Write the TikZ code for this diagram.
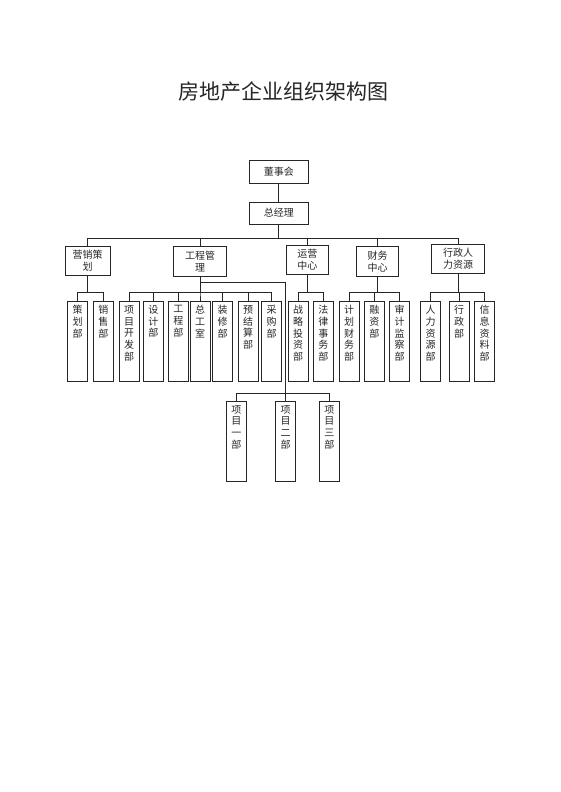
\documentclass[tikz,border=0pt]{standalone}
\usepackage{fontspec}
\setmainfont{Noto Sans CJK SC}
\usetikzlibrary{positioning}

\tikzset{
  unit/.style={draw,inner sep=0pt,align=center,font=\fontsize{10}{12}\selectfont},
  dept/.style={draw,anchor=north,inner xsep=2pt,inner ysep=4pt,minimum width=20pt,minimum height=80pt,font=\fontsize{10}{11.7}\selectfont}
}
\newcommand{\vt}[1]{\parbox[t][72pt][t]{14pt}{\centering\baselineskip=11.7pt #1}}

\begin{document}
\begin{tikzpicture}[x=1pt,y=1pt,line width=0.7pt,color=black!85]
  \useasboundingbox (0,0) rectangle (560,-792);
  \node (title) at (283,-91) {\fontsize{21}{21}\selectfont 房地产企业组织架构图};

  % top levels
  \node[unit,minimum width=59pt,minimum height=22.6pt] (dsh) at (278.8,-172) {董事会};
  \node[unit,minimum width=59pt,minimum height=22pt] (zjl) at (278.8,-213) {总经理};
  \node[unit,minimum width=44.7pt,minimum height=28.3pt] (yx) at (87.5,-260.8) {营销策\\划};
  \node[unit,minimum width=53pt,minimum height=29.3pt] (gc) at (200,-261.3) {工程管\\理};
  \node[unit,minimum width=42.7pt,minimum height=29.3pt] (yy) at (307.3,-259.7) {运营\\中心};
  \node[unit,minimum width=42.3pt,minimum height=29.3pt] (cw) at (377.5,-261.3) {财务\\中心};
  \node[unit,minimum width=52.7pt,minimum height=29.3pt] (xz) at (458,-258.7) {行政人\\力资源};

  % departments
  \foreach \x/\n/\txt in {77.7/chb/策\\划\\部, 103.3/xs/销\\售\\部, 129.2/xmkf/项\\目\\开\\发\\部,
      153.3/sj/设\\计\\部, 178.3/gcb/工\\程\\部, 200/zgs/总\\工\\室, 222.5/zx/装\\修\\部,
      248/yjs/预\\结\\算\\部, 271.7/cg/采\\购\\部, 298/zltz/战\\略\\投\\资\\部,
      323.3/flsw/法\\律\\事\\务\\部, 349.2/jhcw/计\\划\\财\\务\\部, 374.3/rz/融\\资\\部,
      399.7/sjjc/审\\计\\监\\察\\部, 430.7/rlzy/人\\力\\资\\源\\部, 459/xzb/行\\政\\部,
      484.7/xxzl/信\\息\\资\\料\\部}
    \node[dept] (\n) at (\x,-301) {\vt{\txt}};

  % project teams
  \foreach \x/\n/\txt in {236.3/xm1/项\\目\\一\\部, 285.5/xm2/项\\目\\二\\部, 329.3/xm3/项\\目\\三\\部}
    \node[dept] (\n) at (\x,-400.7) {\vt{\txt}};

  \coordinate (b1) at (0,-238.3);
  \coordinate (b2) at (0,-292);
  \coordinate (bj) at (0,-282.7);
  \coordinate (b4) at (0,-393.3);

  \draw (dsh) -- (zjl);
  \foreach \c in {yx,gc,yy,cw,xz}
    \draw (zjl.south) -- (zjl.south |- b1) -| (\c.north);
  \foreach \p/\c in {yx/chb, yx/xs, gc/xmkf, gc/sj, gc/gcb, gc/zgs, gc/zx, gc/yjs, gc/cg,
      yy/zltz, yy/flsw, cw/jhcw, cw/rz, cw/sjjc, xz/rlzy, xz/xzb, xz/xxzl}
    \draw (\p.south) -- (\p.south |- b2) -| (\c.north);
  \draw (gc.south) -- (gc.south |- bj) -| (xm2.north);
  \foreach \c in {xm1,xm3}
    \draw (xm2.north |- b4) -| (\c.north);
\end{tikzpicture}
\end{document}
